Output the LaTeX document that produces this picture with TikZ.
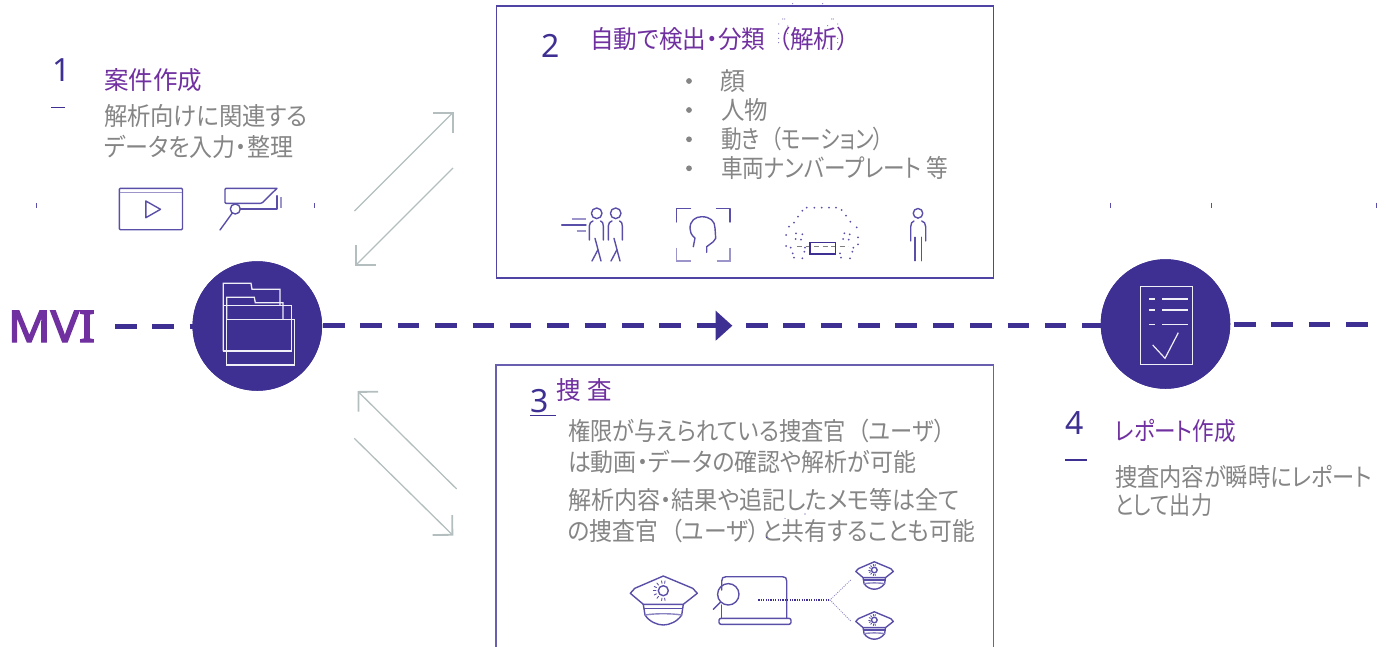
\documentclass[tikz,border=0pt]{standalone}
\usepackage{fontspec}
\usepackage{graphicx}
\usetikzlibrary{arrows.meta}
\setmainfont{Noto Sans CJK JP}[RawFeature={+palt}]
\newfontfamily\numfont{Noto Sans}
\newfontfamily\mvifont{Noto Sans}[FakeBold=3.2]
\newcommand\fitw[2]{\resizebox{#1pt}{\height}{#2}}
\newcommand\lpar{\kern.55em（}
\newcommand\rpar{）\kern.1em}
\definecolor{deep}{HTML}{3E3092}
\definecolor{titlec}{HTML}{7030A0}
\definecolor{bodyc}{HTML}{858585}
\definecolor{iconc}{HTML}{5A4FA8}
\definecolor{frame}{HTML}{4F43A3}
\definecolor{arrowc}{HTML}{B4BEBE}
\tikzset{
  x=1pt,y=-1pt,
  txt/.style={anchor=base west,inner sep=0pt,outer sep=0pt},
  ttl/.style={txt,text=titlec,font=\fontsize{25}{29}\selectfont},
  bdy/.style={txt,text=bodyc,font=\fontsize{25}{29}\selectfont},
  num/.style={txt,text=deep,font=\numfont\fontsize{32}{36}\selectfont},
  flow/.style={draw=deep,line width=5pt,dash pattern=on 21.5pt off 15.87pt},
  hub/.style={circle,fill=deep,minimum size=129.5pt,inner sep=0pt,outer sep=0pt},
  barb/.style={draw=arrowc,line width=1.3pt,-{Straight Barb[length=14pt,width=28pt,line width=1.8pt]}},
  ico/.style={draw=iconc,line width=1.4pt,line cap=round,line join=round},
  icolight/.style={draw=iconc!60,line width=1.6pt},
  wht/.style={draw=white!92!deep,line width=1.3pt},
  rule/.style={draw=deep,line width=1.1pt},
  tick/.style={draw=iconc,line width=1pt},
  policecap/.pic={
    \draw[ico] (-33,2.6) -- (-28.5,-2.4) -- (0,-14.7) -- (29.4,-2.4) -- (34,2.6) -- (20,13.6) -- (-20,13.6) -- cycle;
    \draw[ico] (-20,13.6) -- (-18.3,24.3) .. controls (-14,31) and (-6,34.3) .. (0,34.3) .. controls (6,34.3) and (14,31) .. (18.4,24.3) -- (20,13.6);
    \draw[ico] (-19.2,18) -- (19.2,18);
    \draw[ico,iconc!70] (-18.3,24.3) .. controls (-8,22.6) and (8,22.6) .. (18.4,24.3);
    \draw[ico] (0,0) circle (5);
    \foreach \r in {-170,-140,-115,-90,-65,-40,-10,170,10}{
      \draw[ico,line width=.9pt] (90-\r:7.5) -- (90-\r:10);}
  }
}
\begin{document}
\begin{tikzpicture}[x=1pt,y=-1pt]
\useasboundingbox (0,0) rectangle (1386,646);

% hubs and the time line
\node[hub] (hubA) at (257.3,326) {};
\node[hub] (hubB) at (1165.5,324) {};
\coordinate (lineStart) at (115,326);
\coordinate (midBase) at (716,325.8);
\coordinate (midAfter) at (746,325.8);
\coordinate (endStart) at (1234,324.3);
\coordinate (endStop) at (1368,324.3);
\begin{scope}
\draw[flow] (lineStart) -- (hubA.west |- lineStart);
\draw[flow,dash phase=36.37pt] (hubA.east |- midBase) -- (midBase);
\draw[flow] (midAfter) -- (hubB.west |- midAfter);
\draw[flow] (endStart) -- (endStop);
\end{scope}
\fill[deep] (715.7,310.7) -- (732.3,325.7) -- (715.7,340.7) -- cycle;
\node[hub] at (hubA) {};
\node[hub] at (hubB) {};

% MVI
\node[txt,text=titlec,font=\mvifont\fontsize{43.5}{48}\selectfont] (mvi) at (8,342) {\fitw{87}{MVI}};

% folder icon
\draw[wht] (223.3,351) -- (223.3,283.3) -- (251,283.3) -- (252,289.3) -- (280,289.3) -- (280,305.7);
\draw[wht] (223.5,305.7) rectangle (291.7,351);
\draw[wht] (226.7,319.3) -- (226.7,297.3) -- (254.3,297.3) -- (255.3,302.7) -- (283,302.7) -- (283,319.3);
\draw[wht] (226.7,319.3) rectangle (294.3,365);

% report icon
\draw[wht] (1140.7,286.7) rectangle (1192.7,364.7);
\foreach \yy in {299,310,324.7}{
  \draw[wht,line width=1.1pt] (1149,\yy) -- (1155,\yy);
  \draw[wht,line width=1.1pt] (1162,\yy) -- (1187.7,\yy);
}
\draw[wht,line width=1.2pt] (1152.7,345) -- (1165,358.3) -- (1178.3,332.7);

% section 1
\node[num] (n1) at (52.5,81) {1};
\draw[rule] (51,107.5) -- (65,107.5);
\node[ttl] (t1) at (104,89.7) {\fitw{98}{案件作成}};
\node[bdy] (b1a) at (104,125.7) {\fitw{204}{解析向けに関連する}};
\node[bdy] (b1b) at (104,156) {\fitw{189}{データを入力・整理}};

% ticks
\foreach \xx in {36,314}{\draw[tick] (\xx,203.3) -- (\xx,207.7);}
\foreach \xx in {1110.7,1211,1376.3}{\draw[tick] (\xx,202.7) -- (\xx,207.7);}

% video icon
\draw[ico,rounded corners=1pt] (119.3,188.3) rectangle (182.5,229.7);
\draw[icolight] (119.5,192.3) -- (182.3,192.3);
\draw[ico] (145.8,201) -- (160.5,209.3) -- (145.8,217.7) -- cycle;

% camera icon
\draw[ico,rounded corners=1pt] (277,188.3) -- (225,188.3) -- (225,203.3) -- (261.7,203.3) -- (277,188.3);
\draw[ico] (240.2,209) -- (277,209) -- (277,195.7);
\draw[icolight] (281,197) -- (281,208.3);
\draw[ico] (235.3,209) circle (5);
\draw[ico] (232.3,213) -- (220,230);

% arrows
\coordinate (a1s) at (354.5,211); \coordinate (a1e) at (453.7,111.8);
\coordinate (a2s) at (453,168); \coordinate (a2e) at (355,266);
\coordinate (a3s) at (456.7,489); \coordinate (a3e) at (357.5,391);
\coordinate (a4s) at (354.3,438.3); \coordinate (a4e) at (453.3,535.7);
\draw[barb] (a1s) -- (a1e);
\draw[barb] (a2s) -- (a2e);
\draw[barb] (a3s) -- (a3e);
\draw[barb] (a4s) -- (a4e);

% box 2
\node[draw=frame,line width=1.2pt,minimum width=497.5pt,minimum height=272pt,inner sep=0pt] (box2) at (745,142) {};
\node[num] (n2) at (541,57) {2};
\node[ttl] (t2) at (590,48.5) {\fitw{259}{自動で検出・分類\lpar 解析）}};
\foreach \a/\b in {878/57,884/57,866/72,866/100,866/115,866/128,893/78,893/100,1025/57,1030/57,1013/77,1043/72,1025/88,1043/115,1013/145,1043/128,1000/120,908/11,998/11}{
  \fill[iconc!75] ({490+\a/3},{\b/3}) circle (.65);
}
\foreach \yy in {81,110,139.3,168.3}{\fill[bodyc] (689,\yy) circle (2.9);}
\node[bdy] (l1) at (720,90.5) {\fitw{25}{顔}};
\node[bdy] (l2) at (721,119) {\fitw{47}{人物}};
\node[bdy] (l3) at (721,148.3) {\fitw{163}{動き\lpar モーション）}};
\node[bdy] (l4) at (721,177) {\fitw{227}{車両ナンバープレート 等}};

% walking people icon
\foreach \dx/\bx in {0/0,19/19}{
  \begin{scope}[xshift=\dx pt]
  \draw[ico] (596.7,213.3) circle (5.3);
  \draw[ico] (589.3,240) -- (589.3,226) .. controls (589.3,223) and (591,221.5) .. (593,221);
  \draw[ico] (600.5,221) .. controls (602.5,221.5) and (603.3,223) .. (603.3,226) -- (603.3,240);
  \draw[ico] (595,238.3) -- (601,261);
  \draw[ico] (597.8,250) -- (592,261);
  \end{scope}
}
\draw[icolight,line width=1.3pt] (571.7,219) -- (586,219);
\draw[ico] (561.7,225) -- (586,225);
\draw[icolight] (576.7,231) -- (586,231);

% face icon
\draw[ico] (676.7,222) -- (676.7,208.5) -- (690.5,208.5);
\draw[ico] (716.5,208.5) -- (730,208.5) -- (730,222);
\draw[icolight,line width=1.3pt] (676.7,247.5) -- (676.7,261) -- (690.5,261);
\draw[icolight,line width=1.3pt] (716.5,261) -- (730,261) -- (730,247.5);
\draw[ico] (693.3,246.7) -- (695,238) .. controls (691,235) and (690,231.5) .. (690,228.3) .. controls (690,221) and (695,216.7) .. (701.7,216.7) .. controls (710,216.7) and (715,221) .. (715,228) -- (715.7,238.3) -- (713.3,241.7) -- (706.7,246.7) -- (706.7,252.3);

% vehicle icon
\foreach \a/\b in {110/38,133/38,155/38,177/38,198/38,215/45,228/62,241/80,260/97,97/47,84/65,72/83,57/95,48/120,78/115,97/118,77/132,93/134,48/153,62/158,68/175,72/188,97/190,103/170,105/158,223/115,239/118,219/132,236/134,264/127,264/148,250/158,247/170,240/190,213/188,210/175}{
  \fill[iconc] ({770+\a/3},{195+\b/3}) circle (1);
}
\draw[draw=gray,line width=1.3pt,dash pattern=on 5pt off 3.5pt] (797,246.7) -- (848,246.7);
\draw[draw=deep,line width=1.5pt] (810,242.7) rectangle (835.7,254);

% person icon
\draw[ico] (918,213.3) circle (4.8);
\draw[ico] (910.7,241) -- (910.7,226.7) .. controls (910.7,223.5) and (912,221.5) .. (914,221);
\draw[ico] (921.7,221) .. controls (924,221.5) and (925.7,223.5) .. (925.7,226.7) -- (925.7,241);
\draw[ico] (915,237.3) -- (915,260.7);
\draw[ico] (921.7,237.3) -- (921.7,260.7);

% section 3
\draw[draw=frame!85,line width=1.2pt] (496,650) -- (496,365) -- (993.3,365) -- (993.3,650);
\node[num] (n3) at (530.5,412.5) {3};
\draw[rule] (530,415.7) -- (555.7,415.7);
\node[ttl] (t3) at (556,399.5) {\fitw{56.3}{捜\kern.3em 査}};
\node[bdy] (b3a) at (568,440) {\fitw{377}{権限が与えられている捜査官\lpar ユーザ）}};
\node[bdy] (b3b) at (568,471) {\fitw{348}{は動画・データの確認や解析が可能}};
\node[bdy] (b3c) at (568,509.7) {\fitw{392}{解析内容・結果や追記したメモ等は全て}};
\node[bdy] (b3d) at (568,540.7) {\fitw{407}{の捜査官\lpar ユーザ\rpar と共有することも可能}};
\fill[deep] (785,518.3) circle (.5);
\fill[deep] (805,514) circle (.6);
\fill[deep] (766.7,537.3) circle (.6);

% investigation icons
\pic at (663.3,590.7) {policecap};
\pic[scale=.56] at (874.3,570) {policecap};
\pic[scale=.56] at (874.3,620) {policecap};
\draw[ico] (721.7,590) -- (721.7,581) .. controls (721.7,578) and (723,576.7) .. (726,576.7) -- (782.5,576.7) .. controls (785.5,576.7) and (786.7,578) .. (786.7,581) -- (786.7,618.3);
\draw[ico] (721.7,605) -- (721.7,618.3);
\draw[ico,rounded corners=2pt] (719,618.3) rectangle (791,624.3);
\draw[ico] (728.3,594.3) circle (10.7);
\draw[ico] (720.6,602) -- (713.3,609.3);
\coordinate (dotA) at (758.3,600);
\coordinate (dotB) at (830,600);
\coordinate (dotC) at (850.7,580);
\coordinate (dotD) at (850.7,621);
\draw[draw=deep,line width=1.2pt,dash pattern=on 1.2pt off 1.2pt] (dotA) -- (dotB);
\draw[draw=iconc!70,line width=.8pt,dash pattern=on 1pt off 1.2pt] (dotC) -- (dotB) -- (dotD);

% section 4
\node[num] (n4) at (1065,434) {4};
\draw[rule] (1065,460) -- (1086.7,460);
\node[ttl] (t4) at (1115,440.5) {\fitw{121}{レポート作成}};
\node[bdy] (b4a) at (1115,486.7) {\fitw{257}{捜査内容が瞬時にレポート}};
\node[bdy] (b4b) at (1115,514) {\fitw{97}{として出力}};
\end{tikzpicture}
\end{document}
